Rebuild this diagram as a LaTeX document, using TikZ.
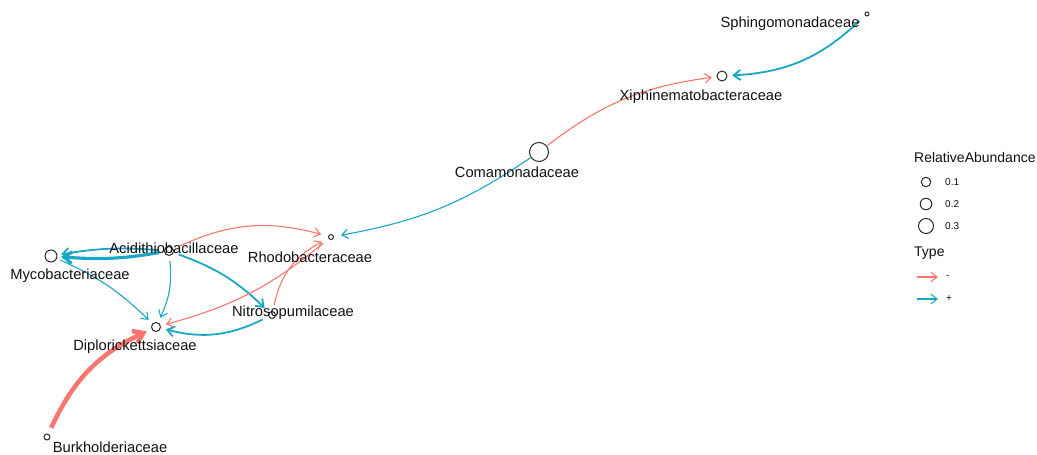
\documentclass[tikz,border=0pt]{standalone}
\usepackage{fontspec}
\setmainfont{Liberation Sans}
\usetikzlibrary{arrows.meta}
\definecolor{neg}{HTML}{F8766D}
\definecolor{pos}{HTML}{1AA7C6}
\definecolor{ink}{HTML}{2B2B2B}
\definecolor{txt}{HTML}{111111}
\begin{document}
\begin{tikzpicture}[x=1pt,y=1pt,
  vcap/.style={circle, minimum size=20pt, inner sep=0pt, draw=none},
  vert/.style={draw=ink, line width=1pt, fill=white},
  lbl/.style={font=\fontsize{14.7}{16}\selectfont, text=txt, inner sep=0pt},
  legtxt/.style={font=\fontsize{10}{12}\selectfont, text=txt, inner sep=0pt, anchor=west},
  arcE/.style={-{Straight Barb[length=5pt 1,width=8pt 1.2]}},
  negE/.style={arcE, draw=neg},
  posE/.style={arcE, draw=pos},
  thinE/.style={line width=1.1pt},
  midE/.style={line width=1.8pt},
]
\useasboundingbox (0,0) rectangle (1037,455);

% family nodes (invisible caps that the connectors attach to)
\node[vcap] (sph) at (867,441) {};
\node[vcap] (xip) at (722,379) {};
\node[vcap] (com) at (539,303) {};
\node[vcap] (rho) at (331,218) {};
\node[vcap] (aci) at (169,204) {};
\node[vcap] (myc) at (51,199) {};
\node[vcap] (dip) at (156,128) {};
\node[vcap] (nit) at (272,140) {};
\node[vcap] (bur) at (47,18) {};

% interactions
\draw[posE, midE] (sph) to[bend left=20] (xip);
\draw[negE, thinE] (com) to[bend left=15] (xip);
\draw[posE, thinE] (com) to[bend left=12] (rho);
\draw[negE, thinE] (aci) to[bend left=20] (rho);
\draw[posE, line width=3.2pt] (aci) to[bend left=7] (myc);
\draw[posE, midE] (aci) to[bend right=7] (myc);
\draw[posE, thinE] (aci) to[bend left=15] (dip);
\draw[posE, midE] (aci) to[bend left=12] (nit);
\draw[posE, thinE] (myc) to[bend left=10] (dip);
\draw[posE, midE] (nit) to[bend left=20] (dip);
\draw[negE, thinE] (nit) to[bend left=25] (rho);
\draw[negE, thinE] (rho) to[bend left=12] (dip);
\draw[negE, line width=4.5pt] (bur) to[bend left=20] (dip);

% vertex circles, sized by relative abundance
\draw[vert] (sph.center) circle (2pt);
\draw[vert] (xip.center) circle (5pt);
\draw[vert] (com.center) circle (9.5pt);
\draw[vert] (rho.center) circle (2.5pt);
\draw[vert] (aci.center) circle (4.5pt);
\draw[vert] (myc.center) circle (6pt);
\draw[vert] (dip.center) circle (4.5pt);
\draw[vert] (nit.center) circle (3.5pt);
\draw[vert] (bur.center) circle (3pt);

% vertex labels
\node[lbl] (lsph) at (790,431) {Sphingomonadaceae};
\node[lbl] (lxip) at (701,358) {Xiphinematobacteraceae};
\node[lbl] (lcom) at (517,283) {Comamonadaceae};
\node[lbl] (lrho) at (310,198) {Rhodobacteraceae};
\node[lbl] (laci) at (174,207) {Acidithiobacillaceae};
\node[lbl] (lmyc) at (70,179) {Mycobacteriaceae};
\node[lbl] (ldip) at (135,108) {Diplorickettsiaceae};
\node[lbl] (lnit) at (293,142) {Nitrosopumilaceae};
\node[lbl] (lbur) at (110,8) {Burkholderiaceae};

% legend
\node[lbl, anchor=west, font=\fontsize{14}{16}\selectfont] (ltitle) at (914,297) {RelativeAbundance};
\node[circle, draw=ink, line width=1pt, minimum size=9.5pt, inner sep=0pt] (s1) at (926,273) {};
\node[circle, draw=ink, line width=1pt, minimum size=11.5pt, inner sep=0pt] (s2) at (926,251) {};
\node[circle, draw=ink, line width=1pt, minimum size=15pt, inner sep=0pt] (s3) at (926,229) {};
\node[legtxt] (v1) at (945,273) {0.1};
\node[legtxt] (v2) at (945,251) {0.2};
\node[legtxt] (v3) at (945,229) {0.3};
\node[lbl, anchor=west, font=\fontsize{14}{16}\selectfont] (ltype) at (914,202) {Type};
\coordinate (ra) at (917,178);
\coordinate (rb) at (938,178);
\coordinate (ba) at (917,156);
\coordinate (bb) at (938,156);
\draw[negE, thinE] (ra) -- (rb);
\draw[posE, thinE] (ba) -- (bb);
\node[legtxt] (tneg) at (946,178) {-};
\node[legtxt] (tpos) at (946,156) {+};
\end{tikzpicture}
\end{document}
